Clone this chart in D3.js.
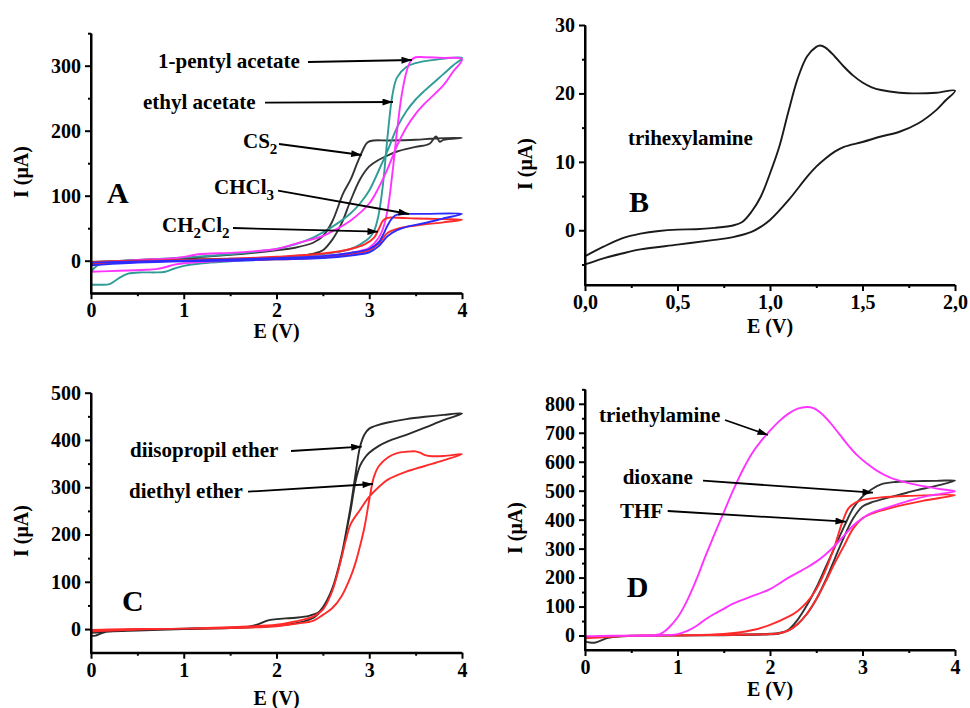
<!DOCTYPE html>
<html><head><meta charset="utf-8">
<script src="https://cdn.jsdelivr.net/npm/d3@7"></script>
<style>
body{margin:0;background:#fff;}
svg text{font-family:"Liberation Serif","Times New Roman",serif;font-weight:bold;fill:#000;}
</style></head><body>
<svg id="c" width="970" height="708"></svg>
<script>
// ---------- DATA (E in V, I in µA) ----------
// Panel A
const aCS2 = [[0,-2],[0.5,1],[1.0,4],[1.5,9],[2.0,16],[2.2,20],[2.4,28],[2.5,38],[2.6,60],[2.72,104],[2.8,125],[2.87,150],[2.93,170],[2.98,182],[3.05,185],[3.2,185],[3.5,186],[3.7,188],[4.0,189],
  [3.8,186],[3.76,183],[3.72,191],[3.65,180],[3.5,175],[3.3,168],[3.2,162],[3.1,155],[3.0,145],[2.9,125],[2.8,93],[2.7,57],[2.6,32],[2.5,16],[2.4,11],[2.2,7],[2.0,5],[1.5,3],[1.0,2],[0.5,0],[0,-3]];
const aEthylAcetate = [[0,-37],[0.1,-37],[0.2,-36],[0.3,-27],[0.4,-20],[0.55,-18],[0.7,-18],[0.8,-17],[0.9,-12],[1.0,-8],[1.2,-4],[1.5,-1],[2.0,3],[2.4,8],[2.6,12],[2.8,18],[2.9,25],[3.0,35],[3.05,45],[3.1,70],[3.15,120],[3.2,195],[3.25,255],[3.3,282],[3.4,298],[3.5,304],[3.7,309],[4.0,312],
  [3.9,300],[3.8,287],[3.6,262],[3.5,248],[3.4,230],[3.3,205],[3.2,170],[3.1,138],[3.0,108],[2.9,88],[2.8,73],[2.6,52],[2.4,36],[2.2,25],[2.0,18],[1.5,10],[1.0,5],[0.5,1],[0.2,-2],[0.1,-5],[0.03,-12],[0,-18]];
const aPentylAcetate = [[0,-17],[0.2,-16],[0.4,-15],[0.6,-14],[0.7,-13],[0.8,-10],[0.9,-6],[1.0,-4],[1.2,-2],[1.5,0],[2.0,3],[2.4,6],[2.7,10],[2.9,15],[3.0,20],[3.1,35],[3.15,50],[3.2,80],[3.25,135],[3.3,200],[3.35,255],[3.4,290],[3.45,308],[3.5,313],[3.6,313],[3.8,312],[4.0,310],
  [3.9,290],[3.8,270],[3.6,242],[3.5,226],[3.4,205],[3.3,177],[3.2,142],[3.1,112],[3.0,88],[2.8,62],[2.6,45],[2.5,38],[2.2,26],[2.0,18],[1.8,15],[1.5,12],[1.3,11],[1.15,10],[1.05,7],[0.9,4],[0.5,1],[0.2,-2],[0,-6]];
const aCH2Cl2 = [[0,-2],[0.5,0],[1.0,1],[1.5,3],[2.0,6],[2.5,11],[2.8,18],[2.95,25],[3.05,35],[3.1,48],[3.15,62],[3.2,66],[3.3,66],[3.5,65],[3.8,64],[4.0,63],
  [3.8,59],[3.6,56],[3.4,52],[3.3,49],[3.2,43],[3.15,35],[3.1,26],[3.0,16],[2.8,10],[2.5,5],[2.0,2],[1.5,1],[1.0,0],[0.5,-2],[0,-5]];
const aCHCl3 = [[0,-3],[0.5,-1],[1.0,0],[1.5,2],[2.0,4],[2.5,7],[2.8,12],[3.0,18],[3.1,28],[3.15,40],[3.2,55],[3.25,66],[3.3,71],[3.4,72],[3.6,72],[4.0,72],
  [3.8,65],[3.6,58],[3.4,52],[3.3,47],[3.2,38],[3.15,30],[3.1,22],[3.0,13],[2.8,8],[2.5,4],[2.0,2],[1.5,0],[1.0,-1],[0.5,-3],[0,-7]];
// Panel B
const bTrihexylamine = [[0,-3.8],[0.1,-2.4],[0.2,-1.2],[0.3,-0.5],[0.4,-0.1],[0.5,0.1],[0.6,0.15],[0.7,0.35],[0.8,0.7],[0.85,1.2],[0.9,2.7],[0.95,4.9],[1.0,8.3],[1.05,12.2],[1.1,17.4],[1.15,22.2],[1.2,25.4],[1.25,26.8],[1.27,27],[1.3,26.7],[1.35,25.4],[1.4,23.9],[1.45,22.6],[1.5,21.6],[1.55,20.9],[1.6,20.5],[1.7,20.1],[1.8,20.0],[1.9,20.1],[2.0,20.4],
  [1.95,19],[1.9,17.6],[1.8,15.6],[1.7,14.4],[1.6,13.7],[1.5,12.9],[1.4,12.2],[1.35,11.5],[1.3,10.5],[1.25,9.3],[1.2,7.8],[1.1,4.4],[1.0,1.5],[0.95,0.5],[0.9,-0.24],[0.8,-1],[0.7,-1.4],[0.5,-2.1],[0.3,-2.8],[0.2,-3.4],[0.1,-4.1],[0,-5]];
// Panel C
const cDiisopropilEther = [[0,-14],[0.05,-14],[0.1,-10],[0.2,-4],[0.5,-1],[1.0,1],[1.5,3],[1.7,5],[1.8,10],[1.9,18],[2.0,21],[2.2,24],[2.35,28],[2.45,35],[2.5,46],[2.6,85],[2.7,155],[2.75,205],[2.8,260],[2.85,325],[2.9,385],[2.95,412],[3.0,424],[3.1,432],[3.2,437],[3.4,444],[3.6,449],[3.8,453],[4.0,456],
  [3.8,442],[3.6,426],[3.4,411],[3.2,397],[3.1,387],[3.0,373],[2.95,362],[2.9,345],[2.85,310],[2.8,252],[2.75,203],[2.7,153],[2.6,83],[2.5,44],[2.4,24],[2.2,12],[2.0,7],[1.5,2],[1.0,0],[0.5,-3],[0.2,-5],[0,-8]];
const cDiethylEther = [[0,-5],[0.5,-1],[1.0,1],[1.5,2],[2.0,6],[2.2,11],[2.4,18],[2.5,30],[2.6,44],[2.7,69],[2.8,111],[2.85,139],[2.9,175],[2.95,217],[3.0,273],[3.05,322],[3.1,344],[3.2,363],[3.3,372],[3.4,375],[3.5,376],[3.55,373],[3.6,368],[3.65,366],[3.8,366],[4.0,370],
  [3.8,357],[3.6,345],[3.4,333],[3.2,316],[3.1,300],[3.0,280],[2.9,252],[2.8,222],[2.75,190],[2.7,150],[2.6,80],[2.5,41],[2.4,27],[2.2,16],[2.0,9],[1.5,4],[1.0,1],[0.5,0],[0.2,-1],[0,-2]];
// Panel D
const dDioxane = [[0,-20],[0.05,-24],[0.1,-25],[0.15,-20],[0.25,-8],[0.4,-3],[0.6,-1],[1.0,0],[1.5,1],[2.0,4],[2.1,7],[2.2,20],[2.3,55],[2.4,105],[2.5,165],[2.6,235],[2.7,305],[2.8,375],[2.9,440],[3.0,480],[3.1,505],[3.2,522],[3.35,530],[3.5,532],[3.8,534],[4.0,535],
  [3.84,520],[3.6,503],[3.48,493],[3.3,478],[3.12,462],[3.0,445],[2.9,405],[2.8,340],[2.7,265],[2.6,190],[2.5,125],[2.4,75],[2.3,40],[2.2,18],[2.1,9],[2.0,6],[1.5,2],[1.0,0],[0.5,-1],[0,-6]];
const dTHF = [[0,-8],[0.3,-2],[0.6,0],[1.0,1],[1.5,5],[1.8,18],[2.0,37],[2.2,65],[2.3,85],[2.4,115],[2.5,160],[2.6,225],[2.7,310],[2.78,390],[2.85,440],[2.92,458],[3.0,468],[3.2,477],[3.5,482],[4.0,485],
  [3.65,465],[3.3,440],[3.1,421],[3.0,405],[2.9,370],[2.8,310],[2.7,250],[2.6,185],[2.5,125],[2.4,75],[2.3,40],[2.2,18],[2.1,8],[2.0,5],[1.5,2],[1.0,0],[0.5,-1],[0,-10]];
const dTriethylamine = [[0,-3],[0.3,-1],[0.6,0],[0.8,4],[0.85,12],[0.9,25],[1.0,62],[1.1,118],[1.2,190],[1.3,272],[1.4,350],[1.5,425],[1.6,500],[1.7,568],[1.8,626],[1.9,670],[2.0,707],[2.1,740],[2.2,766],[2.3,783],[2.4,789],[2.47,785],[2.55,768],[2.65,735],[2.75,695],[2.85,655],[2.95,620],[3.05,593],[3.15,570],[3.3,545],[3.5,526],[3.7,513],[3.85,505],[4.0,498],
  [3.8,487],[3.65,478],[3.5,465],[3.3,445],[3.1,423],[3.0,405],[2.9,380],[2.8,345],[2.7,310],[2.6,280],[2.5,255],[2.4,235],[2.2,200],[2.0,160],[1.8,135],[1.6,110],[1.5,92],[1.4,75],[1.3,55],[1.2,32],[1.1,15],[1.0,5],[0.8,0],[0.4,-1],[0,-2]];

// Ticks
const aXTicks = [0,1,2,3,4], aXMinor = [0.5,1.5,2.5,3.5];
const aYTicks = [0,100,200,300], aYMinor = [50,150,250,350];
const bXTicks = [0,0.5,1.0,1.5,2.0], bXMinor = [0.25,0.75,1.25,1.75];
const bYTicks = [0,10,20,30], bYMinor = [-5,5,15,25];
const cXTicks = aXTicks, cXMinor = aXMinor;
const cYTicks = [0,100,200,300,400,500], cYMinor = [50,150,250,350,450];
const dXTicks = aXTicks, dXMinor = aXMinor;
const dYTicks = [0,100,200,300,400,500,600,700,800], dYMinor = [50,150,250,350,450,550,650,750,850];

// ---------- DRAWING ----------
const svg = d3.select("#c");
const defs = svg.append("defs");
defs.append("marker").attr("id","ah").attr("viewBox","0 0 12 8").attr("refX",12).attr("refY",4)
  .attr("markerWidth",13).attr("markerHeight",7).attr("markerUnits","userSpaceOnUse").attr("orient","auto")
  .append("path").attr("d","M0,0L12,4L0,8z").attr("fill","#000");

const FONT = '"Liberation Serif","Times New Roman",serif';

function panel(p) {
  const x = d3.scaleLinear().domain(p.xd).range([p.l, p.r]);
  const y = d3.scaleLinear().domain(p.yd).range([p.b, p.t]);
  const g = svg.append("g");
  const line = d3.line().x(d=>x(d[0])).y(d=>y(d[1])).curve(d3.curveCatmullRom.alpha(0.5));
  p.curves.forEach(c => {
    g.append("path").attr("d", line(c.data)).attr("fill","none").attr("stroke",c.color)
      .attr("stroke-width",1.9).attr("stroke-linejoin","round");
  });
  const styleAxis = sel => {
    sel.attr("font-family",FONT).attr("font-size",20);
    sel.select(".domain").attr("stroke-width",2).attr("stroke","#000");
    sel.selectAll(".tick line").attr("stroke-width",2).attr("stroke","#000");
    sel.selectAll("text").attr("font-weight","bold").attr("fill","#000");
  };
  g.append("g").attr("transform",`translate(0,${p.b})`)
    .call(d3.axisBottom(x).tickValues(p.xMinor).tickSize(3).tickSizeOuter(0).tickFormat(""))
    .call(styleAxis).select(".domain").remove();
  g.append("g").attr("transform",`translate(${p.l},0)`)
    .call(d3.axisLeft(y).tickValues(p.yMinor).tickSize(3).tickSizeOuter(0).tickFormat(""))
    .call(styleAxis).select(".domain").remove();
  g.append("g").attr("transform",`translate(0,${p.b})`)
    .call(d3.axisBottom(x).tickValues(p.xTicks).tickSize(6).tickSizeOuter(0).tickPadding(4).tickFormat(p.xf))
    .call(styleAxis);
  g.append("g").attr("transform",`translate(${p.l},0)`)
    .call(d3.axisLeft(y).tickValues(p.yTicks).tickSize(6).tickSizeOuter(0).tickPadding(4))
    .call(styleAxis);
  g.append("line").attr("x1",p.l-1).attr("x2",p.r).attr("y1",p.b).attr("y2",p.b).attr("stroke","#000").attr("stroke-width",2);
  g.append("line").attr("x1",p.l).attr("x2",p.l).attr("y1",p.t).attr("y2",p.b+1).attr("stroke","#000").attr("stroke-width",2);
  g.append("text").attr("x",(p.l+p.r)/2).attr("y",p.xlY).attr("text-anchor","middle").attr("font-size",20).text("E (V)");
  g.append("text").attr("transform",`translate(${p.ylX},${p.ylY}) rotate(-90)`).attr("text-anchor","middle")
    .attr("dy","0.35em").attr("font-size",20).text("I (\u03bcA)");
  g.append("text").attr("x",p.letter[0]).attr("y",p.letter[1]).attr("font-size",30).text(p.letter[2]);
  (p.notes||[]).forEach(n => {
    const t = g.append("text").attr("x",n.x).attr("y",n.y).attr("font-size",21);
    let low = false;
    n.parts.forEach(pt => {
      if (typeof pt === "string") {
        t.append("tspan").attr("dy", low ? -6 : 0).text(pt); low = false;
      } else {
        t.append("tspan").attr("font-size",15).attr("dy",6).text(pt.sub); low = true;
      }
    });
    if (n.arrow) {
      g.append("line").attr("x1",n.arrow[0]).attr("y1",n.arrow[1]).attr("x2",n.arrow[2]).attr("y2",n.arrow[3])
        .attr("stroke","#000").attr("stroke-width",1.8).attr("marker-end","url(#ah)");
    }
  });
}

const fmtInt = d3.format("d");
const fmtComma = d => d3.format(".1f")(d).replace(".", ",");

panel({xd:[0,4], yd:[-50,350], l:91, r:462, t:33.2, b:293.2,
  xTicks:aXTicks, xMinor:aXMinor, yTicks:aYTicks, yMinor:aYMinor, xf:fmtInt,
  xlY:338, ylX:21, ylY:172, letter:[107,203,"A"],
  curves:[{data:aCS2,color:"#333333"},{data:aEthylAcetate,color:"#2f9c98"},{data:aPentylAcetate,color:"#ff33ff"},
          {data:aCH2Cl2,color:"#ff2a2a"},{data:aCHCl3,color:"#2b2bff"}],
  notes:[
    {x:158,y:67.7,parts:["1-pentyl acetate"],arrow:[308,62,412,60]},
    {x:143,y:109,parts:["ethyl acetate"],arrow:[265,102.7,393,102]},
    {x:243,y:147.7,parts:["CS",{sub:"2"}],arrow:[279,144,361.7,155]},
    {x:214,y:194,parts:["CHCl",{sub:"3"}],arrow:[278,190.7,409,214]},
    {x:162,y:232,parts:["CH",{sub:"2"},"Cl",{sub:"2"}],arrow:[233,228,378,231.7]}
  ]});

panel({xd:[0,2], yd:[-8,30], l:585, r:955, t:25, b:285,
  xTicks:bXTicks, xMinor:bXMinor, yTicks:bYTicks, yMinor:bYMinor, xf:fmtComma,
  xlY:333, ylX:525, ylY:164, letter:[629,211.7,"B"],
  curves:[{data:bTrihexylamine,color:"#1a1a1a"}],
  notes:[{x:628,y:145,parts:["trihexylamine"]}]});

panel({xd:[0,4], yd:[-50,500], l:91, r:462, t:392.7, b:652.7,
  xTicks:cXTicks, xMinor:cXMinor, yTicks:cYTicks, yMinor:cYMinor, xf:fmtInt,
  xlY:705, ylX:21, ylY:531, letter:[122,610.7,"C"],
  curves:[{data:cDiisopropilEther,color:"#2a2a2a"},{data:cDiethylEther,color:"#ff2a2a"}],
  notes:[
    {x:130,y:457,parts:["diisopropil ether"],arrow:[291,451,361.7,446.7]},
    {x:129,y:498,parts:["diethyl ether"],arrow:[248,491.7,373,484]}
  ]});

panel({xd:[0,4], yd:[-50,850], l:585, r:955, t:389.3, b:650,
  xTicks:dXTicks, xMinor:dXMinor, yTicks:dYTicks, yMinor:dYMinor, xf:fmtInt,
  xlY:696, ylX:515, ylY:528, letter:[626.7,597,"D"],
  curves:[{data:dDioxane,color:"#333333"},{data:dTHF,color:"#ff2a2a"},{data:dTriethylamine,color:"#ff33ff"}],
  notes:[
    {x:599,y:421.7,parts:["triethylamine"],arrow:[725,420,768,435]},
    {x:622.7,y:484,parts:["dioxane"],arrow:[703,480.7,873,492.7]},
    {x:620,y:518,parts:["THF"],arrow:[667.7,511,846,521.7]}
  ]});
</script></body></html>
